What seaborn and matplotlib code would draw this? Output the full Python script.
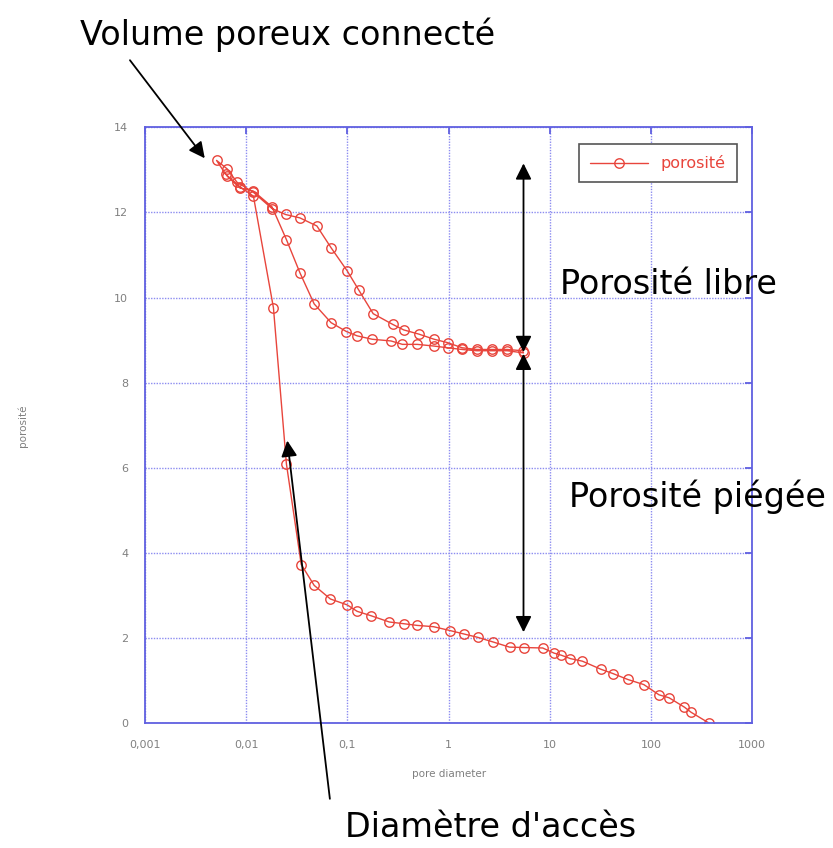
import numpy as np
import pandas as pd
import matplotlib
matplotlib.use("Agg")
import matplotlib.pyplot as plt
import seaborn as sns

# ---- data ----
# first intrusion (large -> small diameters)
x_intrusion1 = [378, 249, 214, 151, 120, 85, 59, 42, 32, 21, 16, 13, 11, 8.5, 5.6, 4.0,
                2.76, 1.94, 1.41, 1.03, 0.71, 0.49, 0.36, 0.26, 0.17, 0.125, 0.10, 0.068,
                0.047, 0.035, 0.025, 0.0186, 0.0118, 0.0087, 0.0063, 0.0051]
y_intrusion1 = [0, 0.26, 0.38, 0.60, 0.67, 0.91, 1.03, 1.17, 1.27, 1.46, 1.52, 1.60, 1.65,
                1.77, 1.78, 1.79, 1.91, 2.02, 2.10, 2.18, 2.27, 2.30, 2.34, 2.38, 2.53, 2.63,
                2.78, 2.92, 3.24, 3.73, 6.09, 9.76, 12.38, 12.60, 12.89, 13.22]
# extrusion (small -> large)
x_extrusion = [0.0065, 0.0081, 0.0118, 0.018, 0.0245, 0.034, 0.050, 0.069, 0.10, 0.13,
               0.18, 0.28, 0.36, 0.51, 0.72, 0.98, 1.36, 1.9, 2.7, 3.8, 5.4]
y_extrusion = [13.02, 12.71, 12.47, 12.09, 11.95, 11.87, 11.68, 11.17, 10.62, 10.17,
               9.62, 9.37, 9.24, 9.14, 9.02, 8.94, 8.82, 8.78, 8.78, 8.78, 8.75]
# second intrusion (large -> small)
x_intrusion2 = [5.5, 3.8, 2.7, 1.9, 1.36, 0.98, 0.72, 0.49, 0.35, 0.27, 0.176, 0.125,
                0.098, 0.069, 0.047, 0.034, 0.025, 0.018, 0.0118, 0.0087, 0.0065]
y_intrusion2 = [8.70, 8.75, 8.75, 8.75, 8.78, 8.82, 8.86, 8.90, 8.90, 8.98, 9.02, 9.10,
                9.20, 9.41, 9.85, 10.58, 11.36, 12.13, 12.50, 12.57, 12.85]

series_label = "porosité"
xtick_values = [0.001, 0.01, 0.1, 1, 10, 100, 1000]
xtick_labels = ["0,001", "0,01", "0,1", "1", "10", "100", "1000"]
ytick_values = [0, 2, 4, 6, 8, 10, 12, 14]
ytick_labels = ["0", "2", "4", "6", "8", "10", "12", "14"]

df = pd.DataFrame({
    "pore diameter": x_intrusion1 + x_extrusion + x_intrusion2,
    "porosité": y_intrusion1 + y_extrusion + y_intrusion2,
})

# ---- style ----
sns.set_style("white")
plt.rcParams["font.family"] = ["DejaVu Sans"]

RED = "#e8453c"
BLUE = "#6060e0"
GRID = "#8c8cf0"

fig = plt.figure(figsize=(8.33, 8.48), dpi=100)
ax = fig.add_axes([0.174, 0.147, 0.729, 0.703])

sns.lineplot(data=df, x="pore diameter", y="porosité", sort=False, estimator=None,
             ax=ax, color=RED, lw=1.0, marker="o", markersize=6.8,
             markerfacecolor="none", markeredgecolor=RED, markeredgewidth=1.0,
             label=series_label)

ax.set_xscale("log")
ax.set_xlim(0.001, 1000)
ax.set_ylim(0, 14)
ax.set_xticks(xtick_values, xtick_labels)
ax.set_yticks(ytick_values, ytick_labels)
ax.minorticks_off()
ax.grid(True, which="major", color=GRID, linestyle=(0, (1, 1)), lw=1.0)
for s in ax.spines.values():
    s.set_color(BLUE)
    s.set_linewidth(1.3)
ax.tick_params(axis="both", direction="in", length=5, width=1.3, color=BLUE,
               labelcolor="#808080", labelsize=8, top=True, right=True, pad=12)
ax.set_xlabel("pore diameter", fontsize=7.5, color="#808080", labelpad=14)
ax.set_ylabel("porosité", fontsize=7.5, color="#808080", labelpad=62)

leg = ax.legend(loc="upper right", fancybox=False, framealpha=1, edgecolor="#555555",
                fontsize=11.5, handlelength=3.6, borderpad=0.7,
                bbox_to_anchor=(0.988, 0.985))
leg.get_frame().set_linewidth(1.2)
for t in leg.get_texts():
    t.set_color(RED)

# ---- annotations ----
arrow_kw = dict(arrowstyle="-|>", color="black", lw=1.3, mutation_scale=24,
                shrinkA=0, shrinkB=0)
dbl_kw = dict(arrowstyle="<|-|>", color="black", lw=1.3, mutation_scale=24,
              shrinkA=0, shrinkB=0)

TXT = dict(fontsize=24, ha="center", va="center", color="black")

fig.text(0.345, 0.959, "Volume poreux connecté", **TXT)
ax.annotate("", xy=(0.0039, 13.27), xytext=(0.156, 0.929), textcoords="figure fraction",
            arrowprops=arrow_kw, annotation_clip=False)

fig.text(0.803, 0.664, "Porosité libre", **TXT)
ax.annotate("", xy=(5.5, 13.15), xytext=(5.5, 8.72), arrowprops=dbl_kw)

fig.text(0.837, 0.414, "Porosité piégée", **TXT)
ax.annotate("", xy=(5.5, 8.68), xytext=(5.5, 2.14), arrowprops=dbl_kw)

fig.text(0.589, 0.024, "Diamètre d'accès", **TXT)
ax.annotate("", xy=(0.0255, 6.64), xytext=(0.396, 0.058), textcoords="figure fraction",
            arrowprops=arrow_kw, annotation_clip=False)

fig.savefig("out.png", dpi=100)
